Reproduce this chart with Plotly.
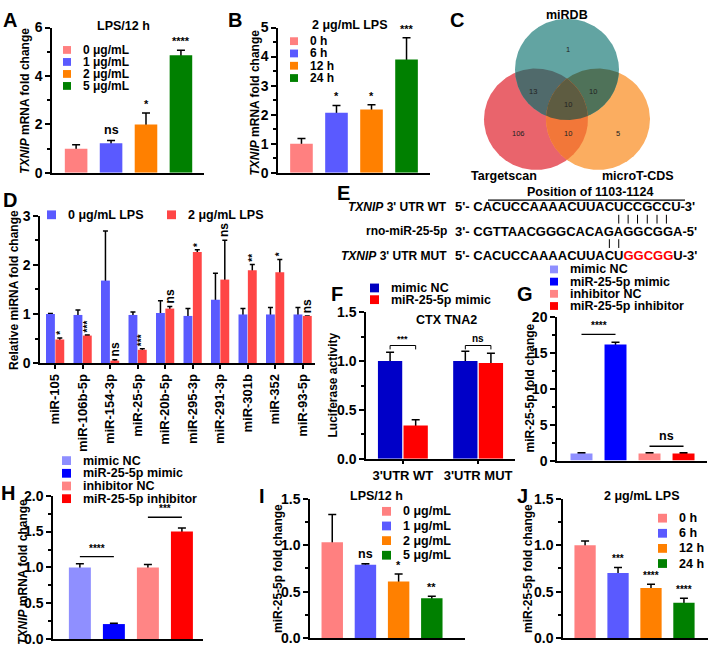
import numpy as np
import plotly.graph_objects as go

W, H = 708, 652
FONT = "Liberation Sans, Arial, sans-serif"
BARGAP = 0.32

# ---------------- data ----------------
conc_labels = ["0 μg/mL", "1 μg/mL", "2 μg/mL", "5 μg/mL"]
time_labels = ["0 h", "6 h", "12 h", "24 h"]
grad_colors = ["#FF8080", "#5A5AFF", "#FF8000", "#008000"]

# A: TXNIP mRNA, LPS dose (12 h)
a_vals = [1.0, 1.22, 2.0, 4.86]
a_err = [0.16, 0.12, 0.47, 0.2]
a_sig = ["", "ns", "*", "****"]

# B: TXNIP mRNA, LPS time (2 ug/mL)
b_vals = [1.0, 2.07, 2.18, 3.9]
b_err = [0.18, 0.25, 0.16, 0.75]
b_sig = ["", "*", "*", "***"]

# C: Venn
venn_names = ["miRDB", "Targetscan", "microT-CDS"]
# miRDB only, Targetscan only, microT only, miRDB&TS, miRDB&microT, TS&microT, all three
venn_counts = [1, 106, 5, 13, 10, 10, 10]

# D: candidate miRNAs
mirnas = ["miR-105", "miR-106b-5p", "miR-154-3p", "miR-25-5p", "miR-20b-5p",
          "miR-295-3p", "miR-291-3p", "miR-301b", "miR-352", "miR-93-5p"]
d_series = ["0 μg/mL LPS", "2 μg/mL LPS"]
d_ctrl = [1.0, 0.98, 1.68, 0.98, 1.02, 0.96, 1.29, 0.99, 0.99, 0.99]
d_ctrl_err = [0.01, 0.10, 1.01, 0.06, 0.25, 0.15, 0.54, 0.12, 0.14, 0.14]
d_lps = [0.48, 0.56, 0.05, 0.27, 1.11, 2.26, 1.70, 1.89, 1.85, 0.96]
d_lps_err = [0.03, 0.01, 0.02, 0.02, 0.04, 0.05, 0.80, 0.12, 0.26, 0.0]
d_sig = ["*", "***", "ns", "***", "ns", "*", "ns", "**", "*", "ns"]

# E: binding site
wt_seq = "CACUCCAAAACUUACUCCGCCU"
mir_seq = "CGTTAACGGGCACAGAGGCGGA"
mut_seq = "CACUCCAAAACUUACUGGCGGU"
mut_start, mut_end = 16, 21
wt_pairs = [15, 16, 17, 18, 19, 20]
mut_pairs = [14, 15]

# F: luciferase
f_groups = ["3'UTR WT", "3'UTR MUT"]
f_series = ["mimic NC", "miR-25-5p mimic"]
f_nc = [1.0, 1.0]
f_nc_err = [0.09, 0.10]
f_mimic = [0.34, 0.98]
f_mimic_err = [0.06, 0.10]
f_sig = ["***", "ns"]

# G/H: mimic / inhibitor
gh_labels = ["mimic NC", "miR-25-5p mimic", "inhibitor NC", "miR-25-5p inhibitor"]
gh_colors = ["#8F8FFF", "#0000FF", "#FF8585", "#FF0000"]
g_vals = [1.0, 16.2, 1.0, 1.0]
g_err = [0.1, 0.3, 0.08, 0.08]
g_sig = [("****", 0, 1, 17.6), ("ns", 2, 3, 2.0)]
h_vals = [1.0, 0.21, 1.0, 1.5]
h_err = [0.05, 0.01, 0.04, 0.05]
h_sig = [("****", 0, 1, 1.15), ("***", 2, 3, 1.7)]

# I / J: miR-25-5p
i_vals = [1.03, 0.79, 0.61, 0.43]
i_err = [0.30, 0.01, 0.08, 0.02]
i_sig = ["", "ns", "*", "**"]
j_vals = [1.0, 0.70, 0.54, 0.38]
j_err = [0.045, 0.06, 0.04, 0.05]
j_sig = ["", "***", "****", "****"]

# ---------------- helpers ----------------
fig = go.Figure()
layout = {}
shapes, notes = [], []


def ref(n, letter):
    return letter if n == 1 else f"{letter}{n}"


def note(text, x, y, size=12.5, xanchor="center", yanchor="middle", angle=0,
         weight="bold", color="black", xref="paper", yref="paper", yshift=0):
    if xref == "paper":
        x = x / W
    if yref == "paper":
        y = 1 - y / H
    notes.append(dict(text=text, x=x, y=y, xref=xref, yref=yref, showarrow=False,
                      xanchor=xanchor, yanchor=yanchor, textangle=angle, yshift=yshift,
                      font=dict(family=FONT, size=size, color=color, weight=weight)))


def rect_px(x0, y0, x1, y1, color):
    shapes.append(dict(type="rect", xref="paper", yref="paper", x0=x0 / W, x1=x1 / W,
                       y0=1 - y1 / H, y1=1 - y0 / H, fillcolor=color, line=dict(width=0)))


def line_px(x0, y0, x1, y1, width=1.3):
    shapes.append(dict(type="line", xref="paper", yref="paper", x0=x0 / W, x1=x1 / W,
                       y0=1 - y0 / H, y1=1 - y1 / H, line=dict(color="black", width=width)))


def line_data(n, x0, y0, x1, y1, width=1.3):
    shapes.append(dict(type="line", xref=ref(n, "x"), yref=ref(n, "y"), x0=x0, x1=x1,
                       y0=y0, y1=y1, line=dict(color="black", width=width)))


def legend(x_sq, y0, dy, labels, colors, sq=9, fs=12.5, gap=10):
    for i, (lab, col) in enumerate(zip(labels, colors)):
        yc = y0 + i * dy
        rect_px(x_sq, yc - sq / 2, x_sq + sq, yc + sq / 2, col)
        note(lab, x_sq + sq + gap, yc, size=fs, xanchor="left")


def setup_axes(n, xpx, ypx, xr, yr, dtick, minor, fmt=None, ticktext=None, tickangle=0):
    xa = dict(domain=[xpx[0] / W, xpx[1] / W], range=list(xr), anchor=ref(n, "y"),
              showline=True, linecolor="black", linewidth=1.5, showgrid=False, zeroline=False)
    if ticktext is None:
        xa.update(showticklabels=False, ticks="")
    else:
        xa.update(tickmode="array", tickvals=list(range(len(ticktext))), ticktext=ticktext,
                  ticks="outside", ticklen=4, tickwidth=1.5, tickcolor="black",
                  tickangle=tickangle,
                  tickfont=dict(family=FONT, size=13, color="black", weight="bold"))
    ya = dict(domain=[1 - ypx[1] / H, 1 - ypx[0] / H], range=list(yr), anchor=ref(n, "x"),
              showline=True, linecolor="black", linewidth=1.5, showgrid=False, zeroline=False,
              ticks="outside", ticklen=5, tickwidth=1.5, tickcolor="black", tick0=0, dtick=dtick,
              minor=dict(dtick=minor, tick0=0, ticks="outside", ticklen=3, tickwidth=1.5,
                         tickcolor="black", showgrid=False),
              tickfont=dict(family=FONT, size=14, color="black", weight="bold"))
    if fmt:
        ya["tickformat"] = fmt
    layout["xaxis" if n == 1 else f"xaxis{n}"] = xa
    layout["yaxis" if n == 1 else f"yaxis{n}"] = ya


def bars(n, x, vals, errs, colors, group, cap=4):
    common = dict(x=x, y=vals, offsetgroup=f"{n}{group}", xaxis=ref(n, "x"),
                  yaxis=ref(n, "y"), showlegend=False, hoverinfo="skip")
    # error bars first, bars drawn over them so only the upper whisker shows
    fig.add_trace(go.Bar(marker=dict(color="rgba(0,0,0,0)", line=dict(width=0)),
                         error_y=dict(type="data", array=errs, color="black",
                                      thickness=1.5, width=cap), **common))
    fig.add_trace(go.Bar(marker=dict(color=colors, line=dict(width=0)), **common))


def stars(n, xs, tops, labels, size=11):
    for x, t, s in zip(xs, tops, labels):
        if s:
            note(s, x, t, size=12.5 if s == "ns" else size, xref=ref(n, "x"),
                 yref=ref(n, "y"), yanchor="bottom", yshift=1)


# ---------------- A ----------------
setup_axes(1, (52, 204), (20, 169), (-0.69, 3.66), (0, 6), 2, 1)
bars(1, list(range(4)), a_vals, a_err, grad_colors, "a")
stars(1, range(4), np.add(a_vals, a_err), a_sig)
note("A", 10, 12, size=20)
note("LPS/12 h", 123, 18)
legend(63, 43, 12.3, conc_labels, grad_colors, sq=8, fs=12)
note("<i>TXNIP</i> mRNA fold change", 25, 95, size=12, angle=-90)

# ---------------- B ----------------
setup_axes(2, (278, 430), (20, 169), (-0.67, 3.67), (0, 5), 1, 0.5)
bars(2, list(range(4)), b_vals, b_err, grad_colors, "a")
stars(2, range(4), np.add(b_vals, b_err), b_sig)
note("B", 235, 12, size=20)
note("2 μg/mL LPS", 350, 17)
legend(290, 34, 12.6, time_labels, grad_colors, sq=8, fs=12)
note("<i>TXNIP</i> mRNA fold change", 255, 97, size=12, angle=-90)

# ---------------- C (Venn) ----------------
venn_centers = [(567, 63), (536, 114), (598, 114)]
venn_r = 52
venn_colors = ["#62A4A2", "#E9646C", "#FBAD60"]
venn_regions = [((1,), venn_colors[1]), ((2,), venn_colors[2]), ((0,), venn_colors[0]),
                ((0, 1), "#506A6B"), ((0, 2), "#4F7259"), ((1, 2), "#F27739"),
                ((0, 1, 2), "#5E5C41")]


def region(idx):
    pts = []
    t = np.linspace(0, 2 * np.pi, 1441)
    for i in idx:
        cx, cy = venn_centers[i]
        xs, ys = cx + venn_r * np.cos(t), cy + venn_r * np.sin(t)
        keep = np.ones_like(xs, dtype=bool)
        for j in idx:
            if j != i:
                ox, oy = venn_centers[j]
                keep &= (xs - ox) ** 2 + (ys - oy) ** 2 <= venn_r ** 2 + 1e-6
        pts.append(np.column_stack([xs[keep], ys[keep]]))
    pts = np.vstack(pts)
    c = pts.mean(axis=0)
    order = np.argsort(np.arctan2(pts[:, 1] - c[1], pts[:, 0] - c[0]))
    pts = pts[order]
    return np.vstack([pts, pts[:1]])


for idx, col in venn_regions:
    p = region(idx)
    fig.add_trace(go.Scatter(x=p[:, 0], y=p[:, 1], mode="lines", fill="toself",
                             fillcolor=col, line=dict(width=0, color=col),
                             xaxis="x3", yaxis="y3", hoverinfo="skip", showlegend=False))
layout["xaxis3"] = dict(domain=[440 / W, 700 / W], range=[440, 700], visible=False)
layout["yaxis3"] = dict(domain=[1 - 185 / H, 1], range=[185, 0], visible=False)
venn_count_pos = [(568, 43), (518, 129), (618, 129), (533, 86), (593, 86), (568, 129), (568, 99)]
for (vx, vy), cnt in zip(venn_count_pos, venn_counts):
    note(str(cnt), vx, vy, size=7.5, weight="normal", color="#222222", xref="x3", yref="y3")
note("C", 457, 12, size=20)
note(venn_names[0], 567, 7)
note(venn_names[1], 504, 172)
note(venn_names[2], 638, 172)

# ---------------- D ----------------
setup_axes(4, (40, 315), (213, 364), (-0.55, 9.45), (0, 3), 1, 0.5,
           ticktext=mirnas, tickangle=-90)
bars(4, list(range(10)), d_ctrl, d_ctrl_err, "#5A5AFF", "a", cap=2.5)
bars(4, list(range(10)), d_lps, d_lps_err, "#FF4646", "b", cap=2.5)
slot = (1 - BARGAP) / 4
for i, s in enumerate(d_sig):
    note(s, i + slot, d_lps[i] + d_lps_err[i], size=12 if s == "ns" else 10,
         xref="x4", yref="y4", angle=-90, yanchor="bottom", yshift=1)
note("D", 10, 197, size=20)
legend(47, 212, 0, [d_series[0]], ["#5A5AFF"], sq=9)
legend(167, 212, 0, [d_series[1]], ["#FF4646"], sq=9)
note("Relative miRNA fold change", 14, 289, size=12, angle=-90)

# ---------------- E ----------------
note("E", 343, 190, size=20)
note("Position of 1103-1124", 590, 189)
line_px(488, 197, 685, 197)
SEQ_FS = 13
SEQ_X = 453
note("<i>TXNIP</i> 3' UTR WT", 449, 204, size=12, xanchor="right")
note("rno-miR-25-5p", 449, 229, size=12, xanchor="right")
note("<i>TXNIP</i> 3' UTR MUT", 449, 254, size=12, xanchor="right")
note("5'- " + wt_seq + "-3'", SEQ_X, 204, size=SEQ_FS, xanchor="left")
note("3'- " + mir_seq + "-5'", SEQ_X, 229, size=SEQ_FS, xanchor="left")
note("5'- " + mut_seq[:mut_start] + "<span style='color:#FF0000'>" +
     mut_seq[mut_start:mut_end] + "</span>" + mut_seq[mut_end:] + "-3'",
     SEQ_X, 254, size=SEQ_FS, xanchor="left")
em = {"5": 0.556, "3": 0.556, "'": 0.238, "-": 0.333, " ": 0.278,
      "C": 0.722, "A": 0.722, "U": 0.722, "G": 0.778, "T": 0.611}


def letter_x(seq, i):
    pre = "5'- " + seq[:i]
    return SEQ_X + 2 + SEQ_FS * (sum(em[c] for c in pre) + em[seq[i]] / 2)


for i in wt_pairs:
    line_px(letter_x(wt_seq, i), 212, letter_x(wt_seq, i), 221, width=1)
for i in mut_pairs:
    line_px(letter_x(mut_seq, i), 237, letter_x(mut_seq, i), 246, width=1)

# ---------------- F ----------------
setup_axes(5, (366, 515), (312, 462), (-0.49, 1.49), (0, 1.5), 0.5, 0.25, fmt=".1f",
           ticktext=f_groups)
bars(5, [0, 1], f_nc, f_nc_err, "#0000C8", "a")
bars(5, [0, 1], f_mimic, f_mimic_err, "#FF0000", "b")
for k, s in enumerate(f_sig):
    x0, x1 = k - slot, k + slot
    line_data(5, x0, 1.16, x1, 1.16, width=1)
    line_data(5, x0, 1.12, x0, 1.16, width=1)
    line_data(5, x1, 1.12, x1, 1.16, width=1)
    note(s, k, 1.16, size=9 if s != "ns" else 10, xref="x5", yref="y5", yanchor="bottom")
note("F", 337, 293, size=20)
legend(370, 287, 12, f_series, ["#0000C0", "#FF0000"], sq=9)
note("CTX TNA2", 446, 320)
note("Luciferase activity", 333, 387, size=12, angle=-90)

# ---------------- G ----------------
setup_axes(6, (557, 707), (317, 464), (-0.72, 3.69), (0, 20), 5, 2.5)
bars(6, list(range(4)), g_vals, g_err, gh_colors, "a")
for s, i0, i1, yv in g_sig:
    line_data(6, i0, yv, i1, yv)
    note(s, (i0 + i1) / 2, yv, size=12.5 if s == "ns" else 10, xref="x6", yref="y6",
         yanchor="bottom", yshift=1)
note("G", 525, 293, size=20)
legend(550, 268, 12.5, gh_labels, gh_colors, sq=8)
note("miR-25-5p fold change", 530, 390, size=12, angle=-90)

# ---------------- H ----------------
setup_axes(7, (53, 203), (500, 647), (-0.79, 3.62), (0, 2), 0.5, 0.25, fmt=".1f")
bars(7, list(range(4)), h_vals, h_err, gh_colors, "a")
for s, i0, i1, yv in h_sig:
    line_data(7, i0, yv, i1, yv)
    note(s, (i0 + i1) / 2, yv, size=10, xref="x7", yref="y7", yanchor="bottom", yshift=1)
note("H", 8, 497, size=20)
legend(62, 464, 13, gh_labels, gh_colors, sq=9)
note("<i>TXNIP</i> mRNA fold change", 23, 578, size=12, angle=-90)

# ---------------- I ----------------
setup_axes(8, (310, 465), (503, 646), (-0.67, 4.0), (0, 1.5), 0.5, 0.25, fmt=".1f")
bars(8, list(range(4)), i_vals, i_err, grad_colors, "a")
stars(8, range(4), np.add(i_vals, i_err), i_sig)
note("I", 262, 500, size=20)
note("LPS/12 h", 377, 500)
legend(382, 516, 15, conc_labels, grad_colors, sq=9)
note("miR-25-5p fold change", 278, 575, size=12, angle=-90)

# ---------------- J ----------------
setup_axes(9, (563, 708), (503, 646), (-0.67, 3.73), (0, 1.5), 0.5, 0.25, fmt=".1f")
bars(9, list(range(4)), j_vals, j_err, grad_colors, "a")
stars(9, range(4), np.add(j_vals, j_err), j_sig, size=10)
note("J", 522, 500, size=20)
note("2 μg/mL LPS", 642, 500)
legend(658, 523, 15.5, time_labels, grad_colors, sq=9)
note("miR-25-5p fold change", 528, 575, size=12, angle=-90)

fig.update_layout(width=W, height=H, margin=dict(l=0, r=0, t=0, b=0),
                  paper_bgcolor="white", plot_bgcolor="white", showlegend=False,
                  barmode="group", bargap=BARGAP, bargroupgap=0.05,
                  font=dict(family=FONT, color="black"),
                  shapes=shapes, annotations=notes, **layout)
fig.write_html("out.html", config={"displayModeBar": False},
               post_script="document.body.style.margin = '0px';")
